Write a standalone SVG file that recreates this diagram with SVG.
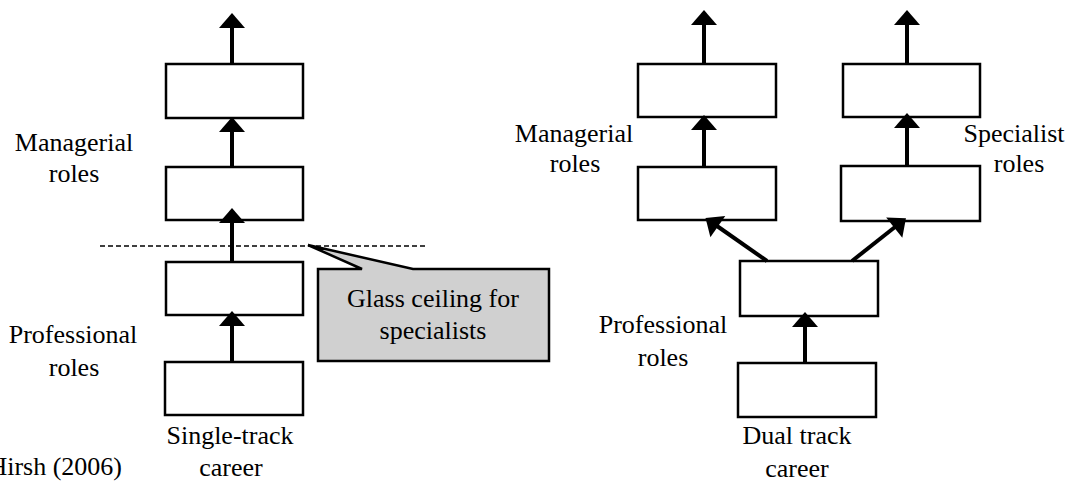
<svg xmlns="http://www.w3.org/2000/svg" width="1078" height="484" viewBox="0 0 1078 484">
<style>
.box{fill:#fff;stroke:#000;stroke-width:2.5}
.lbl{font-family:"Liberation Serif","Times New Roman",serif;font-size:26px;fill:#000;text-anchor:middle}
.arr{stroke:#000;stroke-width:4;fill:none;marker-end:url(#head)}
</style>
<defs>
<marker id="head" markerUnits="userSpaceOnUse" markerWidth="17" markerHeight="27" refX="1" refY="13" orient="auto" overflow="visible">
<path d="M0,0 L15,13 L0,26 Z" fill="#000"/>
</marker>
</defs>
<rect width="1078" height="484" fill="#fff"/>

<line id="glass-line" x1="100" y1="246" x2="425" y2="246" stroke="#000" stroke-width="1.5" stroke-dasharray="5,3"/>

<g id="left-col">
<rect id="L1" class="box" x="166" y="64" width="137" height="54"/>
<rect id="L2" class="box" x="166" y="167" width="137" height="53"/>
<rect id="L3" class="box" x="166" y="262" width="137" height="53"/>
<rect id="L4" class="box" x="165" y="362" width="138" height="53"/>
</g>

<g id="right-col">
<rect id="R-TL" class="box" x="638" y="64" width="138" height="53"/>
<rect id="R-ML" class="box" x="638" y="167" width="138" height="53"/>
<rect id="R-TR" class="box" x="843" y="64" width="137" height="53"/>
<rect id="R-MR" class="box" x="841" y="166" width="139" height="55"/>
<rect id="R-P" class="box" x="740" y="261" width="138" height="55"/>
<rect id="R-B" class="box" x="738" y="363" width="138" height="54"/>
</g>

<g id="connectors">
<line class="arr" x1="232" y1="64" x2="232" y2="27"/>
<line class="arr" x1="232" y1="167" x2="232" y2="131"/>
<line class="arr" x1="232" y1="262" x2="232" y2="222"/>
<line class="arr" x1="232" y1="362" x2="232" y2="325"/>
<line class="arr" x1="704" y1="64" x2="704" y2="24"/>
<line class="arr" x1="907" y1="64" x2="907" y2="24"/>
<line class="arr" x1="704" y1="167" x2="704" y2="129"/>
<line class="arr" x1="907" y1="166" x2="907" y2="127"/>
<line class="arr" x1="805" y1="363" x2="805" y2="326"/>
<line class="arr" x1="767" y1="261" x2="717" y2="226"/>
<line class="arr" x1="852" y1="261" x2="895" y2="227"/>
</g>

<g id="callout">
<path d="M318,269 L362,269 L308,245 L413,269 L549,269 L549,361 L318,361 Z" fill="#d0d0d0" stroke="#000" stroke-width="2.5" stroke-linejoin="miter"/>
<text class="lbl" x="433" y="307">Glass ceiling for</text>
<text class="lbl" x="433" y="339">specialists</text>
</g>

<g id="labels">
<text class="lbl" x="74" y="151">Managerial</text>
<text class="lbl" x="74" y="182">roles</text>
<text class="lbl" x="73" y="343">Professional</text>
<text class="lbl" x="74" y="376">roles</text>
<text class="lbl" x="230" y="444">Single-track</text>
<text class="lbl" x="231" y="476">career</text>
<text class="lbl" x="122" y="475" style="text-anchor:end">Hirsh (2006)</text>
<text class="lbl" x="574" y="142">Managerial</text>
<text class="lbl" x="575" y="172">roles</text>
<text class="lbl" x="1014" y="142">Specialist</text>
<text class="lbl" x="1019" y="172">roles</text>
<text class="lbl" x="663" y="333">Professional</text>
<text class="lbl" x="663" y="366">roles</text>
<text class="lbl" x="797" y="444">Dual track</text>
<text class="lbl" x="797" y="477">career</text>
</g>
</svg>
